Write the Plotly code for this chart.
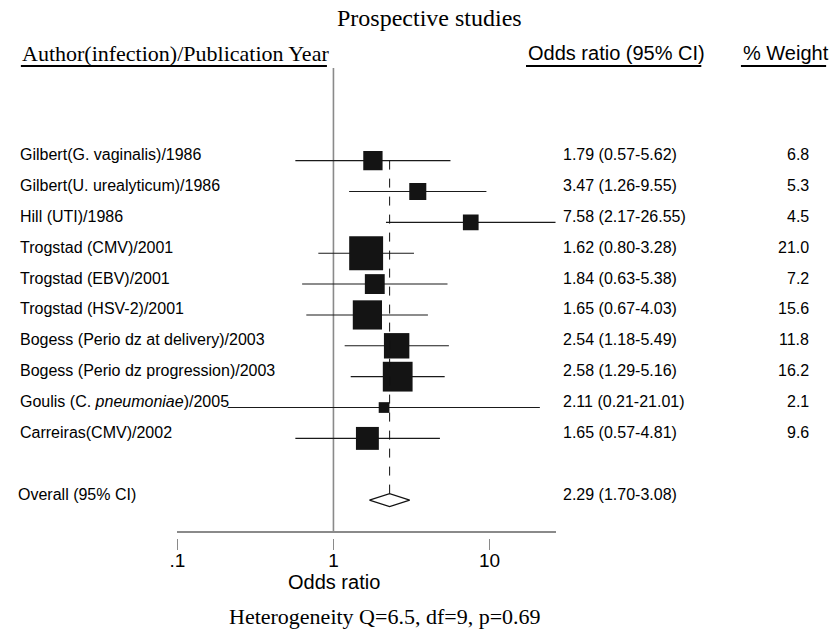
import math
import plotly.graph_objects as go

# ---------------- data ----------------
studies = [
    "Gilbert(G. vaginalis)/1986",
    "Gilbert(U. urealyticum)/1986",
    "Hill (UTI)/1986",
    "Trogstad (CMV)/2001",
    "Trogstad (EBV)/2001",
    "Trogstad (HSV-2)/2001",
    "Bogess (Perio dz at delivery)/2003",
    "Bogess (Perio dz progression)/2003",
    "Goulis (C. <i>pneumoniae</i>)/2005",
    "Carreiras(CMV)/2002",
]
odds_ratio = [1.79, 3.47, 7.58, 1.62, 1.84, 1.65, 2.54, 2.58, 2.11, 1.65]
ci_low = [0.57, 1.26, 2.17, 0.80, 0.63, 0.67, 1.18, 1.29, 0.21, 0.57]
ci_high = [5.62, 9.55, 26.55, 3.28, 5.38, 4.03, 5.49, 5.16, 21.01, 4.81]
weights = [6.8, 5.3, 4.5, 21.0, 7.2, 15.6, 11.8, 16.2, 2.1, 9.6]

overall_label = "Overall (95% CI)"
overall_or = 2.29
overall_low = 1.70
overall_high = 3.08

x_ticks = [0.1, 1, 10]
x_tick_labels = [".1", "1", "10"]

title_text = "Prospective studies"
header_left = "Author(infection)/Publication Year"
header_or = "Odds ratio (95% CI)"
header_weight = "% Weight"
axis_title = "Odds ratio"
footer_text = "Heterogeneity Q=6.5, df=9, p=0.69"

# ---------------- layout constants ----------------
W, H = 838, 630
SANS = "Arial, Liberation Sans, Helvetica, sans-serif"
SERIF = "Times New Roman, Liberation Serif, Times, serif"
GRAY = "#8a8a8a"

rows = list(range(len(studies)))
overall_row = len(studies) + 1

def px(x):
    return x / W

def py(y):
    return 1 - y / H

fig = go.Figure()

# CI lines
ci_x, ci_y = [], []
for r, lo, hi in zip(rows, ci_low, ci_high):
    ci_x += [lo, hi, None]
    ci_y += [r, r, None]
fig.add_trace(go.Scatter(x=ci_x, y=ci_y, mode="lines",
                         line=dict(color="#1a1a1a", width=1.1),
                         hoverinfo="skip", showlegend=False))

# weight squares (area proportional to weight)
fig.add_trace(go.Scatter(
    x=odds_ratio, y=rows, mode="markers",
    marker=dict(symbol="square",
                size=[7.4 * math.sqrt(w) for w in weights],
                color="#141414", opacity=1, line=dict(width=0)),
    showlegend=False, hoverinfo="skip"))

# overall diamond
dh = 0.21
fig.add_trace(go.Scatter(
    x=[overall_low, overall_or, overall_high, overall_or, overall_low],
    y=[overall_row, overall_row - dh, overall_row, overall_row + dh, overall_row],
    mode="lines", fill="toself", fillcolor="white",
    line=dict(color="#111111", width=1.1),
    showlegend=False, hoverinfo="skip"))

# invisible trace so the tick axis is drawn
fig.add_trace(go.Scatter(x=[x_ticks[0], x_ticks[-1]], y=[overall_row, overall_row],
                         xaxis="x2", yaxis="y", mode="markers",
                         marker=dict(opacity=0), showlegend=False, hoverinfo="skip"))

x_range = [math.log10(x_ticks[0]), math.log10(max(ci_high))]

shapes = [
    # null line at OR = 1
    dict(type="line", xref="x", yref="y domain", x0=1, x1=1, y0=0, y1=1,
         line=dict(color=GRAY, width=1.6), layer="below"),
    # dashed overall line
    dict(type="line", xref="x", yref="y", x0=overall_or, x1=overall_or,
         y0=rows[0], y1=overall_row,
         line=dict(color="#111111", width=1, dash="dash"), layer="above"),
    # header underlines
    dict(type="line", xref="paper", yref="paper", x0=px(13), x1=px(322),
         y0=py(66), y1=py(66), line=dict(color="black", width=2)),
    dict(type="line", xref="paper", yref="paper", x0=px(523), x1=px(700),
         y0=py(66), y1=py(66), line=dict(color="black", width=2)),
    dict(type="line", xref="paper", yref="paper", x0=px(740), x1=px(826),
         y0=py(66), y1=py(66), line=dict(color="black", width=2)),
]

ann = []
def add_text(text, x, y, yref="paper", xanchor="left", size=16, family=SANS, yshift=0):
    ann.append(dict(text=text, x=x, y=y, xref="paper", yref=yref,
                    xanchor=xanchor, yanchor="middle", showarrow=False,
                    yshift=yshift, font=dict(size=size, family=family, color="black")))

for r, s, o, lo, hi, w in zip(rows, studies, odds_ratio, ci_low, ci_high, weights):
    add_text(s, px(10), r, yref="y", yshift=6)
    add_text(f"{o:.2f} ({lo:.2f}-{hi:.2f})", px(558), r, yref="y", yshift=6)
    add_text(f"{w:.1f}", px(811), r, yref="y", xanchor="right", yshift=6)

add_text(overall_label, px(8), overall_row, yref="y", yshift=6)
add_text(f"{overall_or:.2f} ({overall_low:.2f}-{overall_high:.2f})", px(558),
         overall_row, yref="y", yshift=6)

add_text(title_text, px(426), py(18), xanchor="center", size=24, family=SERIF)
add_text(header_left, px(12), py(53), size=22, family=SERIF)
add_text(header_or, px(523), py(53), size=20)
add_text(header_weight, px(740), py(53), size=20)
add_text(axis_title, px(329), py(582), xanchor="center", size=20)
add_text(footer_text, px(381), py(616), xanchor="center", size=22, family=SERIF)

fig.update_layout(
    width=W, height=H,
    margin=dict(l=0, r=0, t=0, b=0),
    paper_bgcolor="white", plot_bgcolor="white",
    showlegend=False,
    shapes=shapes,
    annotations=ann,
    xaxis=dict(type="log", range=x_range, domain=[px(171), px(553)],
               showline=True, linecolor=GRAY, linewidth=1.6,
               ticks="", showticklabels=False, showgrid=False, zeroline=False,
               fixedrange=True),
    xaxis2=dict(type="log", range=x_range, domain=[px(171), px(553)],
                overlaying="x", anchor="free", position=py(538), side="bottom",
                showline=False, ticks="outside", ticklen=11, tickwidth=1.4,
                tickcolor=GRAY, tickvals=x_ticks, ticktext=x_tick_labels,
                ticklabelstandoff=-6,
                tickfont=dict(size=19, family=SANS, color="black"),
                showgrid=False, zeroline=False, fixedrange=True),
    yaxis=dict(range=[12, -3], domain=[py(531), py(68)], visible=False,
               fixedrange=True),
)

fig.write_html("out.html")
